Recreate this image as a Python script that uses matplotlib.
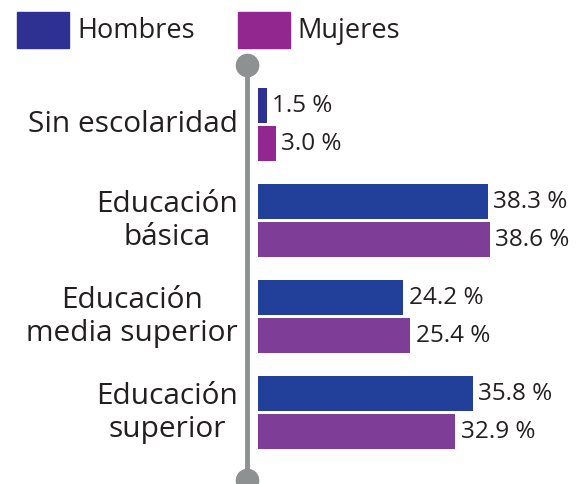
import numpy as np
import matplotlib
matplotlib.use("Agg")
import matplotlib.pyplot as plt
from matplotlib.patches import Rectangle

# data
categories = ["Sin escolaridad", "Educación\nbásica", "Educación\nmedia superior", "Educación\nsuperior"]
hombres = [1.5, 38.3, 24.2, 35.8]
mujeres = [3.0, 38.6, 25.4, 32.9]
series_names = ["Hombres", "Mujeres"]

# colours (first group is drawn with the brighter tones in the original)
blue_first, purple_first = "#2E3192", "#92278F"
blue, purple = "#224099", "#7E3D96"
text_color = "#231F20"
gray = "#8E9192"

plt.rcParams["font.family"] = ["Open Sans", "DejaVu Sans"]

W, H = 586, 485
fig = plt.figure(figsize=(W / 100, H / 100), dpi=100)
ax = fig.add_axes([0, 0, 1, 1])

px_per_pct = 6.0
x0 = 258  # pixel where bars start
group_px = 96
first_center = 125
ax.set_xlim(-x0 / px_per_pct, (W - x0) / px_per_pct)
ax.set_ylim((H - first_center) / group_px, -first_center / group_px)
ax.axis("off")

y = np.arange(len(categories))
h = 35 / group_px
off = 19 / group_px

cb = [blue_first] + [blue] * (len(categories) - 1)
cp = [purple_first] + [purple] * (len(categories) - 1)
ax.barh(y - off, hombres, height=h, color=cb)
ax.barh(y + off, mujeres, height=h, color=cp)

for i in range(len(categories)):
    ax.text(hombres[i] + 0.9, y[i] - off, f"{hombres[i]:.1f} %", va="center", ha="left",
            fontsize=17.5, color=text_color)
    ax.text(mujeres[i] + 0.9, y[i] + off, f"{mujeres[i]:.1f} %", va="center", ha="left",
            fontsize=17.5, color=text_color)
    ax.text(-20 / px_per_pct, y[i], categories[i], va="center", ha="right",
            multialignment="center", fontsize=21.5, color=text_color, linespacing=1.22)

# vertical axis line with round ends (figure pixel coords)
line_x = 247 / W
ax.plot([line_x, line_x], [1 - 66 / H, 1 - 481 / H], transform=fig.transFigure,
        color=gray, lw=3.5, marker="o", markersize=16, solid_capstyle="butt", clip_on=False)

# legend
for x_box, x_txt, col, name in [(17, 77, blue_first, series_names[0]), (238, 297, purple_first, series_names[1])]:
    fig.patches.append(Rectangle((x_box / W, 1 - 49 / H), 52 / W, 36 / H, transform=fig.transFigure,
                                 color=col))
    fig.text(x_txt / W, 1 - 31 / H, name, va="center", ha="left", fontsize=19.5, color=text_color)

fig.savefig("out.png", dpi=100)
